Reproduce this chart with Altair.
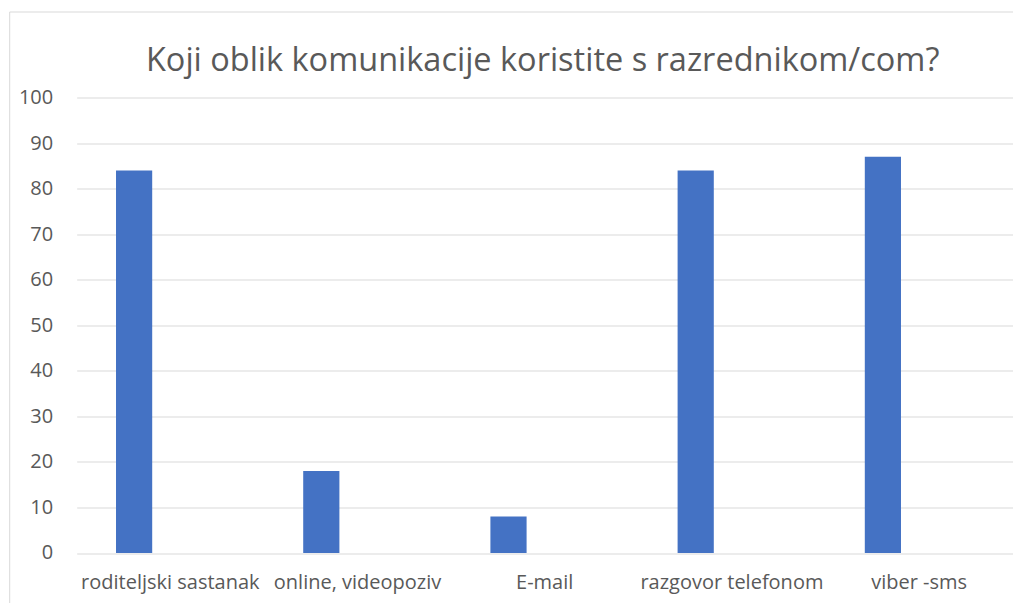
import altair as alt
import pandas as pd

categories = ["roditeljski sastanak", "online, videopoziv", "E-mail", "razgovor telefonom", "viber -sms"]
values = [84, 18, 8, 84, 87]
series = ["Niz 1", "Niz 2", "Niz 3"]
y_ticks = list(range(0, 101, 10))
title_text = "Koji oblik komunikacije koristite s razrednikom/com?"

df = pd.DataFrame({"cat": categories, "val": values, "s": [series[0]] * len(categories)})

TEXT = "#595959"
GRID = "#D9D9D9"
FONT = "Open Sans"

bars = alt.Chart(df).mark_bar(color="#4472C4").encode(
    x=alt.X(
        "cat:N",
        sort=categories,
        scale=alt.Scale(paddingInner=0.42, paddingOuter=0.21),
        axis=alt.Axis(
            title=None, labelAngle=0, domain=False, ticks=False, grid=False,
            labelFont=FONT, labelFontSize=20, labelColor=TEXT, labelPadding=20,
            labelLimit=400, labelOverlap=False,
        ),
    ),
    xOffset=alt.XOffset("s:N", scale=alt.Scale(domain=series)),
    y=alt.Y(
        "val:Q",
        scale=alt.Scale(domain=[0, 100], nice=False),
        axis=alt.Axis(
            title=None, values=y_ticks, domain=False, ticks=False,
            gridColor=GRID, gridWidth=1, labelFont=FONT, labelFontSize=20,
            labelColor=TEXT, labelPadding=24,
        ),
    ),
)

border = alt.Chart(pd.DataFrame({"b": [0]})).mark_rect(
    fillOpacity=0, stroke=GRID, strokeWidth=1
).encode(
    x=alt.value(-67), x2=alt.value(960), y=alt.value(-85.5), y2=alt.value(530)
)

title = alt.Chart(pd.DataFrame({"t": [title_text]})).mark_text(
    font=FONT, fontSize=32.5, color=TEXT, align="center", baseline="alphabetic"
).encode(
    text="t:N", x=alt.value(466), y=alt.value(-26.8)
)

chart = alt.layer(border, bars, title).properties(
    width=936,
    height=455.5,
    padding={"left": 68.7, "top": 89.5, "right": 0, "bottom": 50},
    autosize=alt.AutoSizeParams(type="none"),
).configure_view(stroke=None)

chart.save("out.html", embed_options={"renderer": "svg", "actions": False})
